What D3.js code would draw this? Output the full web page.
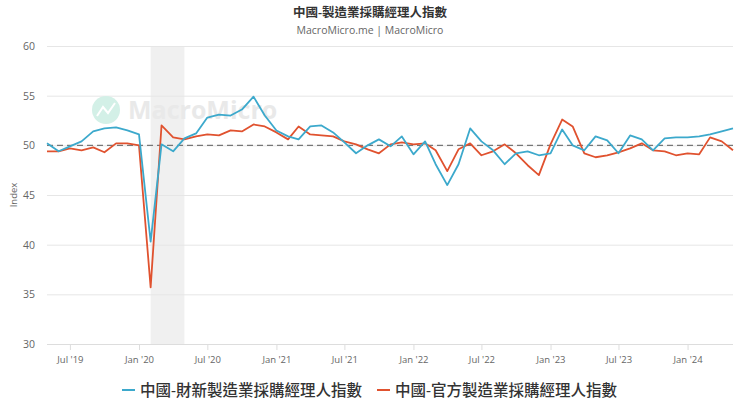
<!DOCTYPE html>
<html><head><meta charset="utf-8">
<script src="https://cdn.jsdelivr.net/npm/d3@7"></script>
<style>body{margin:0;background:#fff;}svg{display:block;font-family:"Open Sans","Noto Sans","Noto Sans CJK TC",sans-serif;}</style>
</head><body><svg id="c" width="740" height="416"></svg>
<script>
const startMonth = "2019-05";
const caixin = [50.2,49.4,49.9,50.4,51.4,51.7,51.8,51.5,
 51.1,40.3,50.1,49.4,50.7,51.2,52.8,53.1,53.0,53.6,54.9,53.0,
 51.5,50.9,50.6,51.9,52.0,51.3,50.3,49.2,50.0,50.6,49.9,50.9,
 49.1,50.4,48.1,46.0,48.1,51.7,50.4,49.5,48.1,49.2,49.4,49.0,
 49.2,51.6,50.0,49.5,50.9,50.5,49.2,51.0,50.6,49.5,50.7,50.8,
 50.8,50.9,51.1,51.4,51.7];
const official = [49.4,49.4,49.7,49.5,49.8,49.3,50.2,50.2,
 50.0,35.7,52.0,50.8,50.6,50.9,51.1,51.0,51.5,51.4,52.1,51.9,
 51.3,50.6,51.9,51.1,51.0,50.9,50.4,50.1,49.6,49.2,50.1,50.3,
 50.1,50.2,49.5,47.4,49.6,50.2,49.0,49.4,50.1,49.2,48.0,47.0,
 50.1,52.6,51.9,49.2,48.8,49.0,49.3,49.7,50.2,49.5,49.4,49.0,
 49.2,49.1,50.8,50.4,49.5];
const yTicks = [30,35,40,45,50,55,60];
const xTickMonths = ["2019-07","2020-01","2020-07","2021-01","2021-07","2022-01","2022-07","2023-01","2023-07","2024-01"];
const shadeRange = ["2020-02","2020-05"];
const seriesNames = ["中國-財新製造業採購經理人指數","中國-官方製造業採購經理人指數"];
const colors = ["#3ca9cc","#e0522f"];

const parse = d3.timeParse("%Y-%m");
const t0 = parse(startMonth);
const dates = caixin.map((_,i)=>d3.timeMonth.offset(t0,i));
const svg = d3.select("#c");
const x = d3.scaleTime().domain([dates[0], dates[dates.length-1]]).range([47,733]);
const y = d3.scaleLinear().domain([30,60]).range([344,46]);

// title
svg.append("text").attr("x",370).attr("y",17).attr("text-anchor","middle")
  .attr("font-size",12.5).attr("font-weight",600).attr("fill","#333").text("中國-製造業採購經理人指數");
svg.append("text").attr("x",370).attr("y",34).attr("text-anchor","middle")
  .attr("font-size",10.5).attr("fill","#666").text("MacroMicro.me | MacroMicro");

// shading
svg.append("rect").attr("x",x(parse(shadeRange[0]))).attr("y",46)
  .attr("width",x(parse(shadeRange[1]))-x(parse(shadeRange[0]))).attr("height",298).attr("fill","#f0f0f0");

// grid
const gy = svg.append("g").attr("transform","translate(47,0)")
  .call(d3.axisLeft(y).tickValues(yTicks).tickSize(-686).tickPadding(12));
gy.select(".domain").remove();
gy.selectAll(".tick line").attr("stroke","#e6e6e6");
gy.selectAll(".tick text").attr("fill","#666").attr("font-size",10.5).attr("font-family","Open Sans, sans-serif");
svg.append("text").attr("transform","translate(17,195) rotate(-90)").attr("text-anchor","middle")
  .attr("font-size",9.5).attr("fill","#666").text("Index");

// watermark
const wm = svg.append("g");
wm.append("circle").attr("cx",106).attr("cy",110).attr("r",14).attr("fill","#d3f0e7");
wm.append("path").attr("d","M97,116 L103,107 L108,113 L115,103").attr("fill","none").attr("stroke","#fff").attr("stroke-width",2);
wm.append("text").attr("x",128).attr("y",119).attr("font-size",25).attr("font-weight","bold").attr("fill","#e9e9e9").text("MacroMicro");

// x axis
const fmt = d3.timeFormat("%b '%y");
const gx = svg.append("g").attr("transform","translate(0,344)")
  .call(d3.axisBottom(x).tickValues(xTickMonths.map(parse)).tickFormat(fmt).tickSize(6).tickPadding(6));
gx.select(".domain").attr("stroke","#ddd").attr("d","M47,0.5H733");
gx.selectAll(".tick line").attr("stroke","#ddd");
gx.selectAll(".tick text").attr("fill","#666").attr("font-size",9.5).attr("font-family","Open Sans, sans-serif");

// reference line at 50
svg.append("line").attr("x1",47).attr("x2",733).attr("y1",y(50)).attr("y2",y(50))
  .attr("stroke","#777").attr("stroke-width",1.3).attr("stroke-dasharray","6,4");

const line = d3.line().x((d,i)=>x(dates[i])).y(d=>y(d));
[official, caixin].forEach((s,k)=>{
  const ci = k===0 ? 1 : 0;
  svg.append("path").datum(s).attr("d",line).attr("fill","none")
    .attr("stroke",colors[ci]).attr("stroke-width",1.8).attr("stroke-linejoin","round");
});

// legend
const lg = [{x:122,name:seriesNames[0],c:colors[0]},{x:377,name:seriesNames[1],c:colors[1]}];
lg.forEach(d=>{
  svg.append("line").attr("x1",d.x).attr("x2",d.x+13).attr("y1",390).attr("y2",390).attr("stroke",d.c).attr("stroke-width",2);
  svg.append("text").attr("x",d.x+18).attr("y",396).attr("font-size",15.5).attr("font-weight",500).attr("fill","#333").text(d.name);
});
</script></body></html>
